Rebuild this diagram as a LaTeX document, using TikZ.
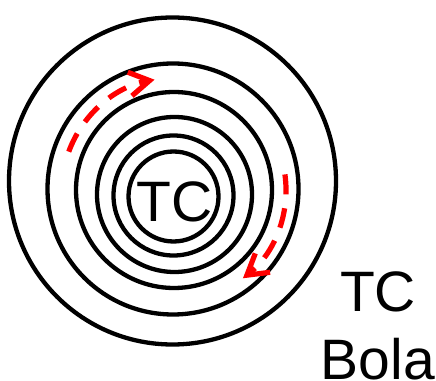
\documentclass[tikz,border=0pt]{standalone}
\usepackage{fontspec}
\setmainfont{Liberation Sans}
\usetikzlibrary{arrows.meta}
\begin{document}
\begin{tikzpicture}[x=1pt,y=1pt,
  ring/.style={draw=black,line width=4.3pt},
  flow/.style={draw=red,line width=5.2pt,dash pattern=on 20pt off 14pt,
    -{Straight Barb[length=20pt,width=24pt,line width=5.2pt]}},
  lbl/.style={font=\fontsize{57}{57}\selectfont,inner sep=0pt,anchor=base}]
\useasboundingbox (0,0) rectangle (436,380);
\clip (0,0) rectangle (436,380);
% concentric rings
\draw[ring] (172.5,199) circle[radius=163.5];
\draw[ring] (173,191) circle[radius=125.5];
\draw[ring] (174,190) circle[radius=98];
\draw[ring] (174.5,185.5) circle[radius=77.5];
\draw[ring] (173.5,184.5) circle[radius=60];
\draw[ring] (173.5,183.5) circle[radius=45];
% centre label
\node[lbl] (tc) at (174.5,158) {TC};
% red circulation arrows
\coordinate (c) at (174,190);
\draw[flow] (c) ++(160:112) arc[start angle=160,end angle=100,radius=112];
\draw[flow] (c) ++(8:112) arc[start angle=8,end angle=-52,radius=112];
% side labels
\node[lbl] (tc2) at (378,68) {TC};
\node[lbl] (bola) at (378,1) {Bola};
\end{tikzpicture}
\end{document}
